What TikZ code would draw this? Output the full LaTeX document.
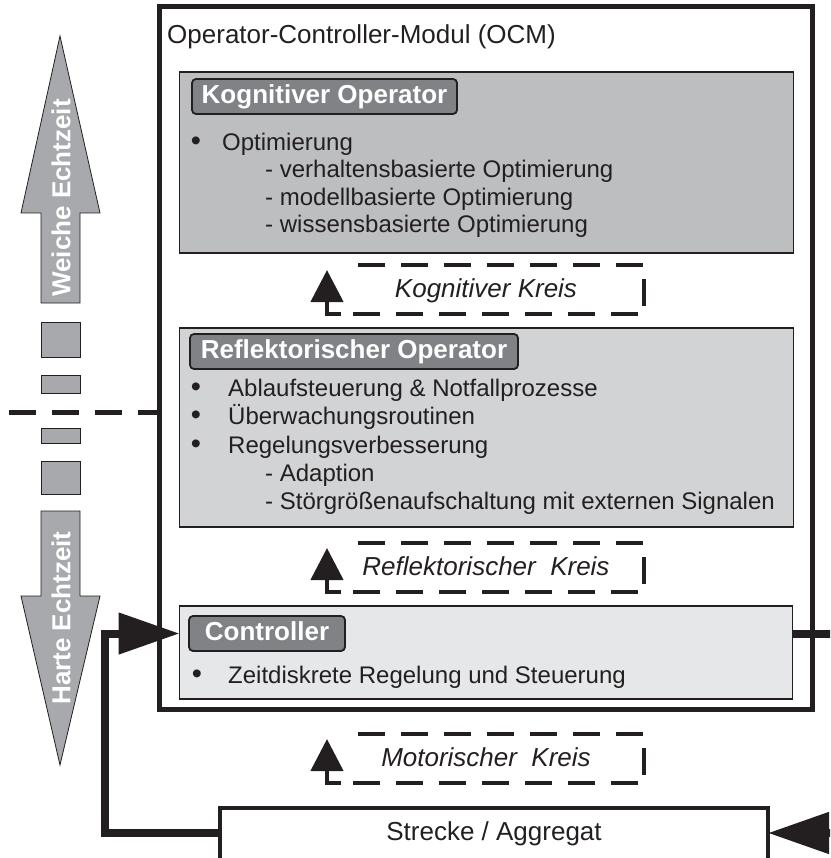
\documentclass[tikz,border=0pt]{standalone}
\usepackage{fontspec}
\setmainfont{Liberation Sans}
\usetikzlibrary{arrows.meta}
\definecolor{ink}{HTML}{231F20}
\definecolor{cogfill}{HTML}{BCBEC0}
\definecolor{reffill}{HTML}{D1D3D4}
\definecolor{ctrlfill}{HTML}{E6E7E8}
\definecolor{tagfill}{HTML}{808285}
\definecolor{timefill}{HTML}{A7A9AC}

% dashed feedback loop with an upward arrow and its label
\newcommand\kreisloop[3]{%
  \draw[loopdash] (358,#1) -- (644,#1);
  \draw[loopline] (644,{#1+14}) -- (644,{#1+41});
  \draw[loopdash] (638,{#1+49}) -- (340,{#1+49});
  \draw[loopline,-{Triangle[length=32pt,width=32pt]}] (341,{#1+49}) -- (327,{#1+49}) -- (327,{#1+5});
  \node[kreistext] (#2) at (486,{#1+32}) {#3};
}

\begin{document}
\begin{tikzpicture}[x=1pt,y=-1pt,
  layer/.style={draw=ink, line width=1.5pt, anchor=north west, inner sep=0pt, outer sep=0pt},
  tag/.style={draw=ink, line width=1.8pt, fill=tagfill, rounded corners=4pt, text=white,
    font=\bfseries\fontsize{26}{30}\selectfont, anchor=north west, inner xsep=8pt, inner ysep=0pt,
    minimum height=35pt, text height=19pt, text depth=5pt, outer sep=0pt},
  body/.style={font=\fontsize{24}{28}\selectfont, text=ink, inner sep=0pt, anchor=base west},
  dot/.style={font=\fontsize{29}{30}\selectfont, text=ink, inner sep=0pt, anchor=base},
  kreistext/.style={font=\itshape\fontsize{26}{30}\selectfont, text=ink, inner sep=0pt, anchor=base},
  bigtext/.style={font=\fontsize{26}{30}\selectfont, text=ink, inner sep=0pt},
  loopline/.style={draw=ink, line width=4.5pt},
  loopdash/.style={loopline, dash pattern=on 27pt off 16pt},
  feed/.style={draw=ink, line width=8pt, line join=miter},
  timebar/.style={fill=timefill, draw=ink, line width=0.8pt},
  timetext/.style={rotate=90, text=white, font=\bfseries\fontsize{26}{30}\selectfont, inner sep=0pt}
]
\useasboundingbox (0,0) rectangle (830,858);
\clip (0,0) rectangle (830,858);

% time scale on the left
\filldraw[timebar] (60,36) -- (100,213) -- (80,213) -- (80,303) -- (41,303) -- (41,213) -- (21,213) -- cycle;
\node[timetext] (weich) at (61,198) {Weiche Echtzeit};
\filldraw[timebar] (41,322) rectangle (80,357);
\filldraw[timebar] (41,375) rectangle (80,393);
\filldraw[timebar] (41,428) rectangle (80,443);
\filldraw[timebar] (41,461) rectangle (80,494);
\filldraw[timebar] (41,511) -- (80,511) -- (80,596) -- (100,596) -- (60,765) -- (21,596) -- (41,596) -- cycle;
\node[timetext] (hart) at (61,618) {Harte Echtzeit};

% operator-controller module
\node[draw=ink, line width=5pt, anchor=north west, inner sep=0pt, outer sep=0pt,
      minimum width=653pt, minimum height=703pt] (ocm) at (159,6.5) {};
\node[bigtext, anchor=base west] (ocmtitle) at (167,44) {Operator-Controller-Modul (OCM)};

% cognitive operator
\node[layer, fill=cogfill, minimum width=614pt, minimum height=181pt] (kog) at (179.5,72) {};
\node[tag, minimum width=265pt] (kogtag) at (192,79) {Kognitiver Operator};
\node[dot] (kb1) at (196,151) {•};
\node[body] (k1) at (222,151) {Optimierung};
\node[body] (k2) at (265,178) {- verhaltensbasierte Optimierung};
\node[body] (k3) at (265,205.5) {- modellbasierte Optimierung};
\node[body] (k4) at (265,233) {- wissensbasierte Optimierung};

% reflective operator
\node[layer, fill=reffill, minimum width=614pt, minimum height=199pt] (ref) at (179.5,328) {};
\node[tag, minimum width=328pt] (reftag) at (190,334) {Reflektorischer Operator};
\node[dot] (rb1) at (196,396) {•};
\node[body] (r1) at (228,396) {Ablaufsteuerung \& Notfallprozesse};
\node[dot] (rb2) at (196,424.5) {•};
\node[body] (r2) at (228,424.5) {Überwachungsroutinen};
\node[dot] (rb3) at (196,453) {•};
\node[body] (r3) at (228,453) {Regelungsverbesserung};
\node[body] (r4) at (265,481.5) {- Adaption};
\node[body] (r5) at (265,509) {- Störgrößenaufschaltung mit externen Signalen};

% controller
\node[layer, fill=ctrlfill, minimum width=613pt, minimum height=93pt] (ctrl) at (179.5,606) {};
\node[tag, minimum width=156pt] (ctag) at (189,616) {Controller};
\node[dot] (cb1) at (197,683) {•};
\node[body] (c1) at (228,683) {Zeitdiskrete Regelung und Steuerung};

% loops
\kreisloop{265}{kogkreis}{Kognitiver Kreis}
\kreisloop{543}{refkreis}{Reflektorischer\ \ Kreis}
\kreisloop{734}{motkreis}{Motorischer\ \ Kreis}

% plant
\node[anchor=north west, inner sep=0pt, outer sep=0pt, minimum width=548pt, minimum height=50pt] (strecke) at (220,808) {};
\draw[draw=ink, line width=4.5pt] (strecke.south west) -- (strecke.north west) -- (strecke.north east) -- (strecke.south east);
\node[bigtext, anchor=base] (streckelabel) at (494,840) {Strecke / Aggregat};

% border between soft and hard real time
\coordinate (divL) at (9,412);
\draw[draw=ink, line width=5pt, dash pattern=on 27pt off 16pt] (divL) -- (ocm.west |- divL);

% signal paths
\coordinate (bendL) at (105,0);
\coordinate (outR) at (870,0);
\coordinate (inR) at (900,0);
\draw[feed, -{Triangle[length=61pt,width=40pt]}] (strecke.west) -| (bendL |- ctag.west) -- (ctrl.west |- ctag.west);
\draw[feed] (ctrl.east |- ctag.east) -- (outR |- ctag.east);
\draw[feed, -{Triangle[length=61pt,width=40pt]}] (inR |- strecke.east) -- (strecke.east);
\end{tikzpicture}
\end{document}
